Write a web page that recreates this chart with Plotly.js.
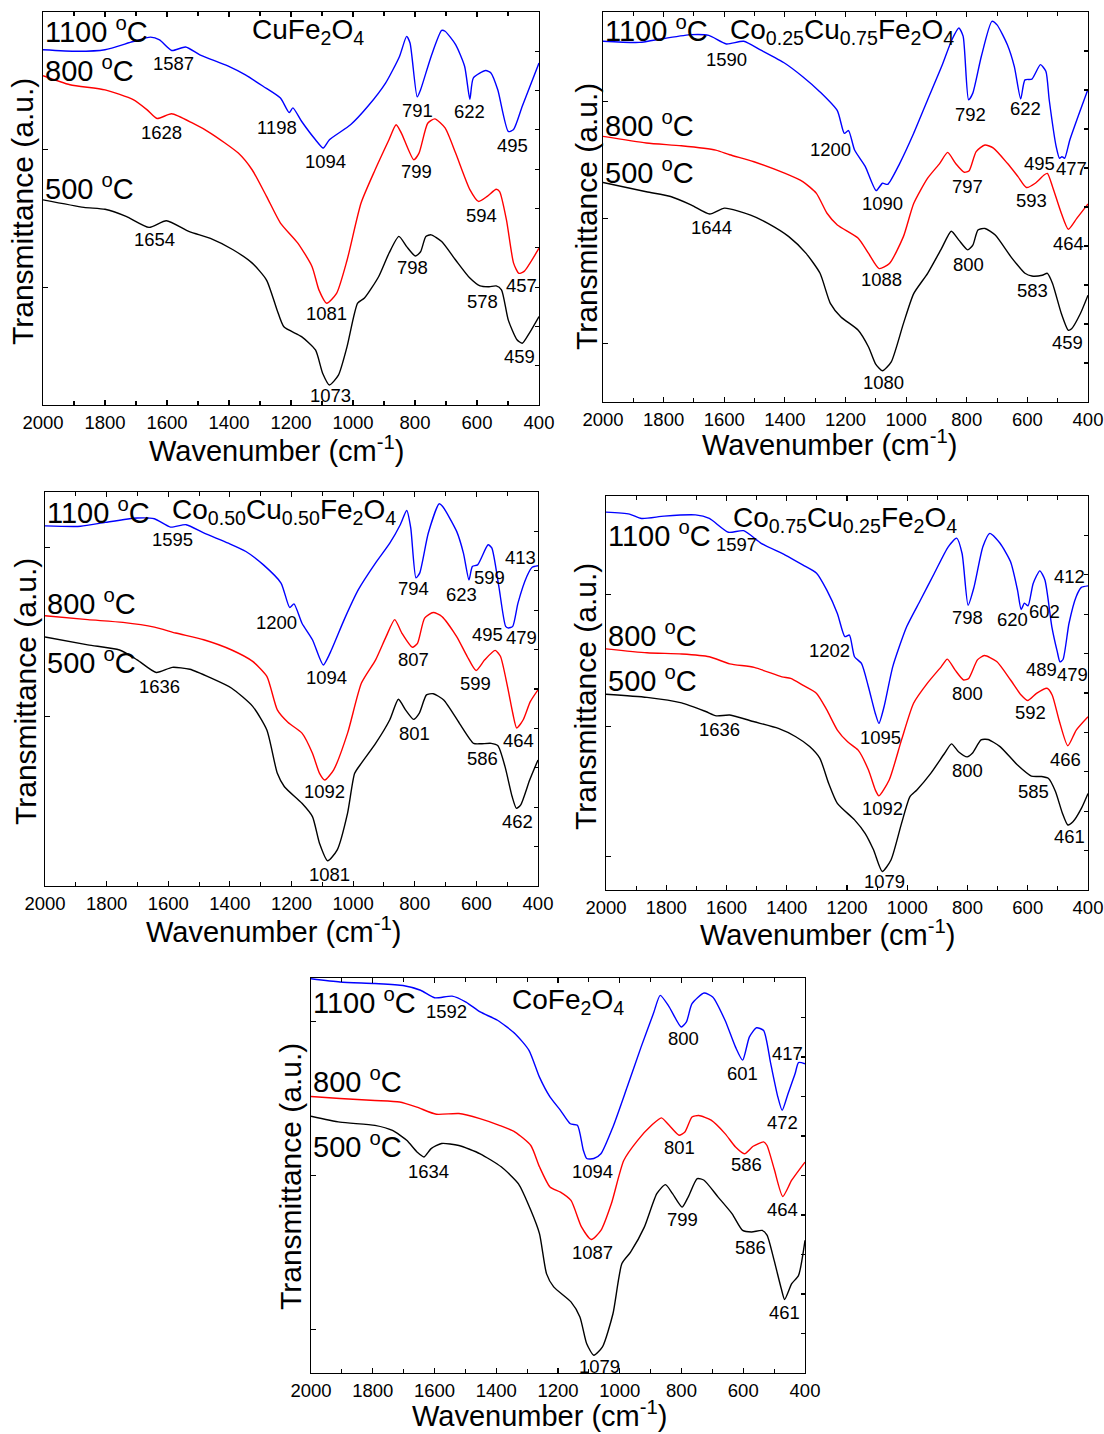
<!DOCTYPE html>
<html>
<head>
<meta charset="utf-8">
<script src="https://cdn.plot.ly/plotly-3.0.1.min.js"></script>
<style>html,body{margin:0;padding:0;background:#fff;}#chart{width:1104px;height:1434px;}</style>
</head>
<body>
<div id="chart"></div>
<script>
// ---------- DATA (wavenumber in cm-1, transmittance in a.u.) ----------
// Panel 1: CuFe2O4
const p1_wn_1100 = [2000,1890,1800,1709,1653,1624,1585,1540,1494,1404,1347,1290,1234,1206,1194,1166,1121,1096,1076,1008,952,895,850,827,816,793,782,748,714,703,669,640,623,612,572,555,533,499,482,454,400];
const p1_t_1100  = [90.4,90.0,90.4,92.5,93.6,92.9,90.2,91.1,89.1,86.3,84.0,81.1,78.1,74.4,75.6,72.2,67.5,65.4,67.5,71.3,76.0,81.9,88.7,93.8,92.1,78.4,80.2,88.7,95.3,95.1,91.7,86.2,77.8,83.2,85.1,84.5,80.2,69.6,70.1,76.0,87.0];
const p1_wn_800  = [2000,1913,1800,1709,1664,1632,1585,1517,1460,1370,1325,1279,1234,1178,1132,1110,1085,1053,1019,974,929,884,861,844,804,787,759,736,703,669,623,595,567,538,527,505,482,465,448,400];
const p1_t_800   = [83.8,81.5,80.2,77.7,75.1,72.9,74.1,71.7,69.2,64.1,59.8,53.1,46.3,41.2,35.2,29.3,25.9,28.4,36.9,51.4,59.8,67.5,71.3,69.2,62.4,64.1,71.7,72.8,70.5,64.1,54.8,51.8,53.1,54.9,54.3,47.1,36.1,33.5,34.0,39.9];
const p1_wn_500  = [2000,1868,1800,1732,1658,1602,1528,1460,1387,1325,1279,1245,1223,1166,1121,1098,1076,1047,1019,985,963,917,884,852,827,799,782,765,748,714,669,623,590,561,538,521,499,471,454,431,400];
const p1_t_500   = [52.2,50.3,49.8,48.0,45.2,46.9,44.1,42.4,39.5,36.1,31.8,24.2,19.9,17.4,14.0,8.1,5.1,7.6,14.9,25.9,27.2,32.7,38.6,42.9,40.3,37.9,39.0,42.9,43.3,41.6,36.9,32.3,30.3,30.1,30.3,29.3,21.6,16.6,15.7,18.3,22.5];
const p1_lbl    = ['1587','1628','1198','1094','791','622','495','799','594','457','1081','1654','798','578','459','1073'];
const p1_lbl_wn = [1579,1619,1245,1089,793,623,485,795,587,456,1085,1639,807,581,463,1074];
const p1_lbl_t  = [87.0,69.4,70.7,62.0,75.0,74.7,66.0,59.3,48.1,30.3,23.2,42.0,35.1,26.3,12.3,2.5];

// Panel 2: Co0.25Cu0.75Fe2O4
const p2_wn_1100 = [2000,1880,1800,1708,1651,1593,1536,1479,1399,1341,1284,1227,1204,1190,1170,1135,1099,1078,1061,1021,975,929,883,849,826,812,794,780,752,717,700,666,643,622,608,585,557,539,528,505,494,486,477,460,425,400];
const p2_t_1100  = [92.5,92.2,93.2,94.2,94.0,91.8,92.5,90.2,86.8,83.4,79.5,74.7,68.9,69.6,64.6,60.4,54.2,56.1,55.8,61.2,68.9,77.5,86.0,92.9,95.9,93.8,77.5,79.2,88.6,97.6,96.7,91.6,86.0,77.7,82.6,82.8,86.5,84.8,77.5,65.5,62.5,62.9,62.5,67.2,74.9,80.2];
const p2_wn_800  = [2000,1857,1742,1628,1582,1502,1399,1341,1296,1261,1227,1158,1124,1089,1055,1009,975,929,889,863,837,808,792,769,740,712,666,631,603,574,545,534,517,488,465,437,400];
const p2_t_800   = [68.1,66.4,65.7,64.6,63.4,61.6,58.6,56.5,53.5,48.4,45.4,42.0,38.1,34.2,35.5,42.4,50.9,57.4,61.2,64.0,61.2,58.9,59.3,64.2,65.9,65.1,61.2,57.8,55.0,56.1,58.2,58.6,55.2,48.4,44.3,47.1,50.8];
const p2_wn_500  = [2000,1857,1777,1708,1648,1599,1513,1456,1387,1330,1284,1250,1215,1158,1124,1101,1078,1049,1009,975,929,883,851,826,797,780,763,740,706,654,608,585,551,534,517,488,465,454,425,400];
const p2_t_500   = [56.3,53.9,52.7,50.5,48.2,49.7,47.9,45.8,42.4,38.1,33.0,25.3,21.8,18.4,14.1,9.8,8.0,10.3,20.1,27.8,33.0,39.4,43.8,41.5,39.0,40.2,44.1,44.5,42.8,37.2,33.0,32.3,32.5,33.0,30.4,22.7,18.4,18.8,22.7,27.4];
const p2_lbl    = ['1590','1200','1090','792','622','495','477','797','593','464','1088','1644','800','583','459','1080'];
const p2_lbl_wn = [1591,1250,1078,788,605,559,456,797,588,465,1080,1641,794,582,467,1074];
const p2_lbl_t  = [87.8,64.8,50.8,73.8,75.3,61.2,59.8,55.2,51.6,40.7,31.3,44.7,35.3,28.5,15.2,5.0];

// Panel 3: Co0.50Cu0.50Fe2O4
const p3_wn_1100 = [2000,1884,1804,1701,1645,1593,1542,1485,1405,1348,1291,1234,1206,1192,1166,1132,1097,1075,1029,983,927,881,847,826,813,796,784,756,721,710,664,642,624,613,596,562,550,527,505,496,482,465,436,419,400];
const p3_t_1100  = [91.4,91.3,92.3,93.4,93.2,91.1,91.7,89.6,87.0,84.9,81.5,76.9,70.7,71.6,66.7,62.5,56.1,59.1,67.6,75.2,82.0,87.0,91.7,95.3,90.9,78.2,79.4,89.6,97.0,96.4,90.0,84.5,77.7,81.1,81.5,86.6,85.8,76.0,65.9,65.5,65.9,71.8,78.6,80.9,81.3];
const p3_wn_800  = [2000,1861,1747,1645,1576,1485,1394,1326,1280,1246,1211,1166,1132,1109,1092,1063,1018,973,927,893,865,842,808,791,768,740,712,664,630,601,573,539,522,499,482,469,448,425,400];
const p3_t_800   = [68.6,67.6,66.9,65.7,64.2,62.5,59.9,57.0,53.2,44.7,41.5,38.8,33.7,28.6,26.9,29.5,38.8,51.5,57.4,63.3,67.6,64.2,60.6,61.6,68.0,69.4,68.4,63.3,58.3,54.7,57.4,59.8,58.3,50.6,43.9,40.1,42.2,46.8,49.8];
const p3_wn_500  = [2000,1861,1758,1701,1639,1587,1530,1462,1394,1326,1280,1246,1223,1166,1132,1109,1083,1052,1018,995,973,927,881,853,830,804,785,762,740,706,655,609,586,552,530,507,484,470,456,427,400];
const p3_t_500   = [63.2,61.2,59.9,57.4,54.2,55.5,55.0,52.8,50.2,45.6,39.6,28.6,25.2,21.0,17.6,10.8,6.4,9.1,18.5,28.6,31.2,36.2,42.2,47.4,44.7,42.3,43.9,48.5,48.8,47.2,41.3,36.2,36.1,36.2,35.6,30.3,22.7,19.7,20.6,26.9,32.0];
const p3_lbl    = ['1595','1200','1094','794','623','599','413','495','479','807','599','464','1092','1636','801','586','462','1081'];
const p3_lbl_wn = [1587,1249,1088,803,647,556,457,564,454,803,602,462,1092,1627,801,579,465,1077];
const p3_lbl_t  = [87.9,66.9,52.9,75.4,74.1,78.2,83.4,63.9,63.1,57.6,51.5,36.9,24.0,50.6,38.6,32.4,16.3,3.0];

// Panel 4: Co0.75Cu0.25Fe2O4
const p4_wn_1100 = [2000,1922,1882,1807,1703,1657,1594,1543,1485,1405,1347,1301,1267,1232,1207,1192,1175,1152,1129,1106,1094,1077,1048,1002,956,910,864,836,818,798,778,749,726,692,657,634,622,611,599,582,560,543,520,502,493,483,463,439,422,400];
const p4_t_1100  = [95.9,95.4,94.3,94.9,95.2,94.3,90.8,91.2,88.0,85.0,82.5,80.4,76.1,70.2,64.3,64.7,59.2,57.5,51.6,44.8,42.3,46.5,56.7,66.8,73.6,80.4,87.1,89.3,85.4,72.3,77.0,87.1,90.5,88.0,83.3,76.1,71.2,72.8,72.1,77.8,81.0,78.7,66.8,60.5,57.9,58.5,67.7,74.5,76.8,77.2];
const p4_wn_800  = [2000,1864,1749,1657,1589,1508,1416,1387,1347,1301,1267,1232,1198,1163,1129,1106,1094,1060,1019,979,933,887,867,841,813,796,767,744,703,657,622,600,571,536,519,496,467,439,400];
const p4_t_800   = [61.2,60.2,59.9,59.2,57.4,56.5,54.1,53.7,52.0,49.9,45.7,40.6,37.6,35.5,30.5,25.4,23.9,27.9,38.1,47.4,52.5,56.7,58.6,55.8,53.3,53.7,58.4,59.5,58.0,53.3,49.5,48.1,49.9,51.2,49.5,43.1,36.6,40.6,44.0];
const p4_wn_500  = [2000,1864,1749,1669,1634,1589,1508,1428,1370,1324,1290,1261,1232,1175,1140,1112,1083,1054,1019,991,968,922,876,853,830,801,784,755,732,692,634,588,554,531,508,485,467,450,422,400];
const p4_t_500   = [49.7,48.9,47.5,45.3,44.2,44.4,42.7,41.0,38.9,36.4,33.4,27.1,22.0,17.8,14.4,10.2,4.7,7.6,16.9,23.7,25.4,29.6,34.7,37.1,35.1,33.8,34.7,38.1,38.2,36.4,31.7,28.9,28.8,28.3,25.0,19.5,16.5,17.3,20.7,24.5];
const p4_lbl    = ['1597','1202','1095','798','620','602','412','489','479','800','592','466','1092','1636','800','585','461','1079'];
const p4_lbl_wn = [1566,1257,1089,801,652,543,460,556,453,801,591,474,1083,1623,801,580,462,1074];
const p4_lbl_t  = [87.6,60.9,38.7,69.2,68.7,70.6,79.5,56.0,54.6,49.9,45.0,33.2,20.6,40.8,30.3,25.0,13.5,2.1];

// Panel 5: CoFe2O4
const p5_wn_1100 = [2000,1906,1793,1702,1645,1600,1543,1498,1452,1396,1339,1294,1260,1226,1192,1160,1137,1118,1107,1084,1061,1022,976,931,891,869,840,801,784,766,727,699,659,625,602,580,557,534,511,488,474,455,432,421,400];
const p5_t_1100  = [99.8,99.0,98.6,98.1,96.9,95.0,95.4,93.9,91.4,89.3,85.9,81.7,74.9,69.9,66.5,63.1,62.7,56.4,54.3,54.3,55.5,62.3,72.4,82.5,91.0,95.6,92.7,87.6,88.9,93.5,96.2,95.2,89.3,82.5,79.2,85.1,87.4,86.7,78.3,69.9,66.5,70.7,75.8,78.6,78.3];
const p5_wn_800  = [2000,1906,1793,1713,1657,1594,1521,1453,1390,1339,1288,1260,1226,1192,1158,1124,1092,1061,1027,987,942,897,865,840,808,789,766,744,704,659,625,596,568,534,523,500,472,443,400];
const p5_t_800   = [70.0,69.5,69.0,68.6,67.3,65.5,65.7,64.4,62.7,61.0,57.6,52.2,47.1,45.8,43.7,37.0,33.8,36.1,42.9,53.8,58.9,62.7,64.6,62.7,60.2,61.0,64.8,65.2,64.0,60.6,57.2,55.5,57.4,58.5,57.6,51.7,44.7,48.8,53.4];
const p5_wn_500  = [2000,1906,1793,1736,1690,1656,1634,1611,1577,1521,1452,1384,1328,1288,1260,1237,1214,1158,1129,1107,1084,1056,1022,993,965,920,880,852,829,798,778,749,727,682,636,602,573,539,523,500,477,466,443,421,400];
const p5_t_500   = [65.0,63.5,62.7,61.4,58.9,55.9,54.7,56.8,58.1,57.6,55.5,52.2,47.9,41.2,35.3,25.1,21.8,18.0,14.2,7.4,4.5,6.6,15.0,27.7,30.6,37.0,45.4,47.7,45.4,42.0,44.6,49.2,48.8,44.6,40.3,36.1,35.7,36.1,34.9,28.5,21.4,18.6,22.6,24.7,33.6];
const p5_lbl    = ['1592','1094','800','601','417','472','801','586','464','1087','1634','799','586','461','1079'];
const p5_lbl_wn = [1560,1087,795,602,457,474,808,588,472,1087,1619,797,577,466,1067];
const p5_lbl_t  = [91.6,50.9,84.6,75.8,80.8,63.4,57.0,52.8,41.4,30.4,50.9,38.9,31.7,15.4,1.7];

// Temperature labels, compound names, axis titles
const tempNames = ['1100 <sup>o</sup>C','800 <sup>o</sup>C','500 <sup>o</sup>C'];
const compounds = ['CuFe<sub>2</sub>O<sub>4</sub>',
  'Co<sub>0.25</sub>Cu<sub>0.75</sub>Fe<sub>2</sub>O<sub>4</sub>',
  'Co<sub>0.50</sub>Cu<sub>0.50</sub>Fe<sub>2</sub>O<sub>4</sub>',
  'Co<sub>0.75</sub>Cu<sub>0.25</sub>Fe<sub>2</sub>O<sub>4</sub>',
  'CoFe<sub>2</sub>O<sub>4</sub>'];
const xTitle = 'Wavenumber (cm<sup>-1</sup>)';
const yTitle = 'Transmittance (a.u.)';
const xTickVals = [2000,1800,1600,1400,1200,1000,800,600,400];

// ---------- LAYOUT CONFIG ----------
const W = 1104, H = 1434;
const FONT = 'Liberation Sans, Arial, sans-serif';
const colors = ['#0000ff','#ff0000','#000000'];
const panels = [
  {box:[43,12,539,405], s:[[p1_wn_1100,p1_t_1100],[p1_wn_800,p1_t_800],[p1_wn_500,p1_t_500]],
   lbl:[p1_lbl,p1_lbl_wn,p1_lbl_t], tempY:[95.3,85.5,55.4], comp:[1144,95.0], yt:[30,65],
   xt:[276,449], yti:[22,212]},
  {box:[603,12,1088,402], s:[[p2_wn_1100,p2_t_1100],[p2_wn_800,p2_t_800],[p2_wn_500,p2_t_500]],
   lbl:[p2_lbl,p2_lbl_wn,p2_lbl_t], tempY:[95.7,71.3,59.3], comp:[1213,95.0], yt:[15,47,77],
   xt:[829,443], yti:[587,217]},
  {box:[45,492,538,886], s:[[p3_wn_1100,p3_t_1100],[p3_wn_800,p3_t_800],[p3_wn_500,p3_t_500]],
   lbl:[p3_lbl,p3_lbl_wn,p3_lbl_t], tempY:[95.3,72.0,57.2], comp:[1225,95.0], yt:[43,86],
   xt:[273,930], yti:[25,692]},
  {box:[606,496,1088,890], s:[[p4_wn_1100,p4_t_1100],[p4_wn_800,p4_t_800],[p4_wn_500,p4_t_500]],
   lbl:[p4_lbl,p4_lbl_wn,p4_lbl_t], tempY:[90.3,64.9,53.5], comp:[1206,94.0], yt:[8.5,41.5,75],
   xt:[827,933], yti:[585,697]},
  {box:[311,978,805,1373], s:[[p5_wn_1100,p5_t_1100],[p5_wn_800,p5_t_800],[p5_wn_500,p5_t_500]],
   lbl:[p5_lbl,p5_lbl_wn,p5_lbl_t], tempY:[94.3,74.3,57.8], comp:[1168,94.0], yt:[11,50,89],
   xt:[539,1414], yti:[290,1177]}
];

const traces = [];
const annotations = [];
const layout = {
  width: W, height: H, margin:{l:0,r:0,t:0,b:0},
  paper_bgcolor:'#fff', plot_bgcolor:'#fff', showlegend:false,
  font:{family:FONT, color:'#000'}
};

panels.forEach((p, i) => {
  const n = i + 1;
  const xa = 'x' + (n > 1 ? n : '');
  const ya = 'y' + (n > 1 ? n : '');
  const yr = 'y' + (n + 5);
  const xd = [p.box[0]/W, p.box[2]/W];
  const yd = [1 - p.box[3]/H, 1 - p.box[1]/H];
  layout['xaxis' + (n > 1 ? n : '')] = {
    domain: xd, anchor: ya, range:[2000,400], autorange:false,
    showline:true, linecolor:'#000', linewidth:1.3, mirror:'ticks',
    ticks:'inside', ticklen:5, tickwidth:1.2, tickcolor:'#000',
    tickvals: xTickVals, ticktext: xTickVals.map(String),
    minor:{dtick:100, ticks:'inside', ticklen:4, tickwidth:1.1, tickcolor:'#000', showgrid:false},
    showgrid:false, zeroline:false,
    tickfont:{family:FONT, size:18.5, color:'#000'}
  };
  layout['yaxis' + (n > 1 ? n : '')] = {
    domain: yd, anchor: xa, range:[0,100], autorange:false,
    showline:true, linecolor:'#000', linewidth:1.3, mirror:true,
    ticks:'inside', ticklen:5, tickwidth:1.1, tickcolor:'#000',
    tickvals: p.yt, showticklabels:false, showgrid:false, zeroline:false
  };
  layout['yaxis' + (n + 5)] = {
    overlaying: ya, anchor: xa, side:'right', range:[0,100], autorange:false,
    showline:false, ticks:'inside', ticklen:4, tickwidth:1.1, tickcolor:'#000',
    tick0:0, dtick:10, showticklabels:false, showgrid:false, zeroline:false
  };
  p.s.forEach((s, k) => {
    traces.push({x:s[0], y:s[1], xaxis:xa, yaxis:ya, type:'scatter', mode:'lines',
      line:{color:colors[k], width:1.4, shape:'spline', smoothing:0.6}, hoverinfo:'skip'});
  });
  traces.push({x:[2000], y:[0], xaxis:xa, yaxis:yr, type:'scatter', mode:'lines',
    line:{color:'rgba(0,0,0,0)'}, hoverinfo:'skip', showlegend:false});
  // axis titles
  annotations.push({xref:'paper', yref:'paper', x:p.xt[0]/W, y:1 - p.xt[1]/H, xanchor:'center', yanchor:'middle',
    text:xTitle, showarrow:false, font:{family:FONT, size:29, color:'#000'}});
  annotations.push({xref:'paper', yref:'paper', x:p.yti[0]/W, y:1 - p.yti[1]/H, xanchor:'center', yanchor:'middle',
    text:yTitle, textangle:-90, showarrow:false, font:{family:FONT, size:30, color:'#000'}});
  // temperature labels
  tempNames.forEach((t, k) => {
    annotations.push({xref:xa, yref:ya, x:2000, y:p.tempY[k], xanchor:'left', yanchor:'middle',
      text:t, showarrow:false, font:{family:FONT, size:29, color:'#000'}});
  });
  // compound name
  annotations.push({xref:xa, yref:ya, x:p.comp[0], y:p.comp[1], xanchor:'center', yanchor:'middle',
    text:compounds[i], showarrow:false, font:{family:FONT, size:28, color:'#000'}});
  // peak labels
  p.lbl[0].forEach((t, k) => {
    annotations.push({xref:xa, yref:ya, x:p.lbl[1][k], y:p.lbl[2][k], xanchor:'center', yanchor:'middle',
      text:t, showarrow:false, font:{family:FONT, size:18.5, color:'#000'}});
  });
});
layout.annotations = annotations;

Plotly.newPlot('chart', traces, layout, {staticPlot:true, displayModeBar:false});
</script>
</body>
</html>
